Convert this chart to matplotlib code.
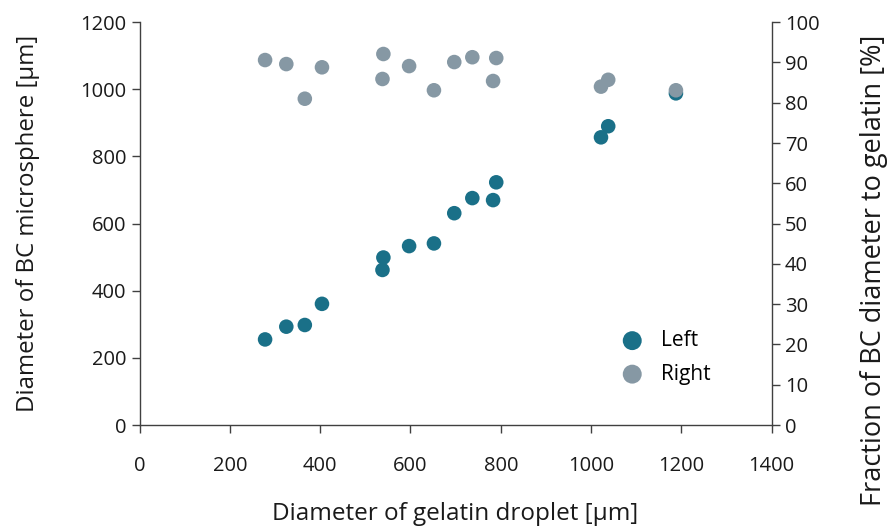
import matplotlib
matplotlib.use("Agg")
import matplotlib.pyplot as plt

plt.rcParams['font.family'] = ['Open Sans', 'DejaVu Sans']

gelatin = [278, 325, 366, 404, 538, 540, 597, 652, 697, 737, 783, 790, 1022, 1038, 1188]
bc_diam = [255, 293, 298, 361, 462, 499, 533, 541, 631, 676, 670, 723, 857, 890, 988]
fraction = [90.6, 89.6, 81.0, 88.8, 85.9, 92.1, 89.1, 83.1, 90.1, 91.3, 85.4, 91.1, 84.0, 85.7, 83.1]

c_left = '#1a7088'
c_right = '#8698a4'
spine_c = '#404040'
txt_c = '#1a1a1a'

fig = plt.figure(figsize=(8.89, 5.28), dpi=100)
ax = fig.add_axes([0.157, 0.195, 0.711, 0.763])
ax2 = ax.twinx()

ax.scatter(gelatin, bc_diam, s=110, color=c_left, edgecolor='none', label='Left', zorder=3)
ax2.scatter(gelatin, fraction, s=110, color=c_right, edgecolor='none', label='Right', zorder=3)

ax.set_xlim(0, 1400)
ax.set_ylim(0, 1200)
ax2.set_ylim(0, 100)
ax.set_xticks(range(0, 1401, 200))
ax.set_yticks(range(0, 1201, 200))
ax2.set_yticks(range(0, 101, 10))

for a in (ax, ax2):
    a.spines['top'].set_visible(False)
    for s in ('left', 'right', 'bottom'):
        a.spines[s].set_color(spine_c)
        a.spines[s].set_linewidth(1.0)
    a.tick_params(direction='out', length=6, width=1.0, color=spine_c, labelsize=14.5, labelcolor=txt_c)
ax.tick_params(axis='x', pad=16)
ax.spines['right'].set_visible(False)
ax2.spines['left'].set_visible(False)
ax2.spines['bottom'].set_visible(False)

ax.set_xlabel('Diameter of gelatin droplet [µm]', fontsize=17.5, color=txt_c, labelpad=19)
ax.set_ylabel('Diameter of BC microsphere [µm]', fontsize=17.3, color=txt_c, labelpad=29)
ax2.set_ylabel('Fraction of BC diameter to gelatin [%]', fontsize=19.5, color=txt_c)
ax2.yaxis.set_label_coords(1.14, 0.385)

h1, l1 = ax.get_legend_handles_labels()
h2, l2 = ax2.get_legend_handles_labels()
ax2.legend(h1 + h2, l1 + l2, loc='center left', bbox_to_anchor=(0.73, 0.168), frameon=False,
           fontsize=15, markerscale=1.3, handletextpad=0.4, labelspacing=0.6, borderpad=0)

fig.savefig('out.png', dpi=100)
